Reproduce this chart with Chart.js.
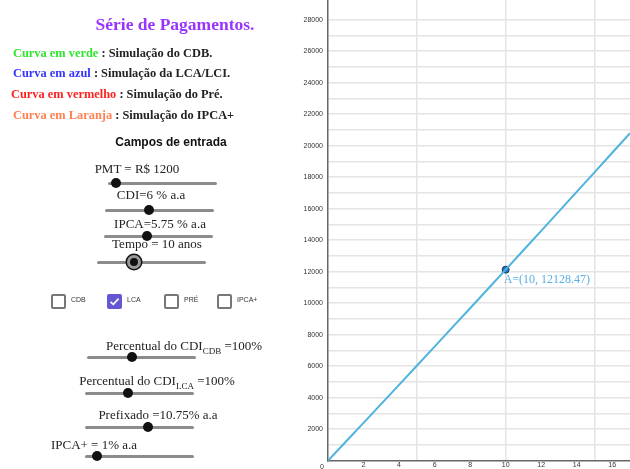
<!DOCTYPE html>
<html>
<head>
<meta charset="utf-8">
<script src="https://cdn.jsdelivr.net/npm/chart.js@4"></script>
<style>
  html, body { margin: 0; padding: 0; width: 630px; height: 469px; overflow: hidden; background: #fff; }
  #grafico { position: absolute; left: 0; top: 0; }
  .t { position: absolute; white-space: nowrap; line-height: 1; }
  .c { transform: translateX(-50%); }
  .serif { font-family: "Liberation Serif", "Times New Roman", serif; color: #222; }
  .b { font-weight: bold; }
  .slider { position: absolute; height: 3px; background: #8c8c8c; border-radius: 2px; }
  .knob { position: absolute; width: 10px; height: 10px; margin: -5px 0 0 -5px; border-radius: 50%; background: #111; }
  .knob.sel { width: 8px; height: 8px; margin: -7px 0 0 -7px; border: 3px solid #999; box-shadow: 0 0 0 1.5px #111; }
  .cb { position: absolute; width: 11px; height: 11px; border: 2px solid #777; border-radius: 2px; background: #fff; }
  .cb.on { background: #6557d2; border-color: #6557d2; }
  .cbl { position: absolute; font: 7px "Liberation Sans", Arial, sans-serif; color: #333; }
</style>
</head>
<body>
<canvas id="grafico" width="630" height="490"></canvas>

<div class="t c serif b" style="left:175px; top:16px; font-size:17.5px; color:#9933ff;">Série de Pagamentos.</div>
<div class="t serif b" style="left:13px; top:47px; font-size:12.4px;"><span style="color:#2ee62e">Curva em verde</span> : Simulação do CDB.</div>
<div class="t serif b" style="left:13px; top:67px; font-size:12.4px;"><span style="color:#3333ff">Curva em azul</span> : Simulação da LCA/LCI.</div>
<div class="t serif b" style="left:11px; top:88px; font-size:12.4px;"><span style="color:#ff2020">Curva em vermelho</span> : Simulação do Pré.</div>
<div class="t serif b" style="left:13px; top:109px; font-size:12.4px;"><span style="color:#ff7f50">Curva em Laranja</span> : Simulação do IPCA+</div>
<div class="t c b" style="left:171px; top:136px; font-size:12px; font-family:'Liberation Sans', Arial, sans-serif; color:#111;">Campos de entrada</div>

<div class="t c serif" style="left:137px; top:162px; font-size:13px;">PMT = R$ 1200</div>
<div class="t c serif" style="left:151px; top:188px; font-size:13px;">CDI=6 % a.a</div>
<div class="t c serif" style="left:160px; top:217px; font-size:13px;">IPCA=5.75 % a.a</div>
<div class="t c serif" style="left:157px; top:237px; font-size:13px;">Tempo = 10 anos</div>
<div class="t c serif" style="left:184px; top:339px; font-size:13px;">Percentual do CDI<sub style="font-size:9px">CDB</sub> =100%</div>
<div class="t c serif" style="left:157px; top:374px; font-size:13px;">Percentual do CDI<sub style="font-size:9px">LCA</sub> =100%</div>
<div class="t c serif" style="left:158px; top:408px; font-size:13px;">Prefixado =10.75% a.a</div>
<div class="t c serif" style="left:94px; top:438px; font-size:13px;">IPCA+ = 1% a.a</div>

<div id="controles"></div>

<div class="cb" style="left:51px; top:294px;"></div>
<div class="cb on" style="left:107px; top:294px;">
  <svg width="11" height="11" viewBox="0 0 11 11" style="position:absolute;left:0;top:0"><path d="M1.5 5.8 L4.3 8.4 L9.6 2.6" fill="none" stroke="#fff" stroke-width="1.6"/></svg>
</div>
<div class="cb" style="left:164px; top:294px;"></div>
<div class="cb" style="left:217px; top:294px;"></div>
<div class="cbl" style="left:71px; top:296px;">CDB</div>
<div class="cbl" style="left:127px; top:296px;">LCA</div>
<div class="cbl" style="left:184px; top:296px;">PRÉ</div>
<div class="cbl" style="left:237px; top:296px;">IPCA+</div>

<script>
// Dados do gráfico (curva azul: LCA/LCI)
const anos = [0, 1, 2, 3, 4, 5, 6, 7, 8, 9, 10, 11, 12, 13, 14, 15, 16, 17];
const valoresLCA = [0, 1200, 2403, 3609, 4817, 6029, 7243, 8461, 9681, 10904, 12128.47, 13360, 14592, 15827, 17065, 18306, 19550, 20797];
const pontoA = { x: 10, y: 12128.47 };
const rotuloA = 'A=(10, 12128.47)';

// Marcas dos eixos
const ticksX = [1, 2, 3, 4, 5, 6, 7, 8, 9, 10, 11, 12, 13, 14, 15, 16, 17];
const ticksY = [1000, 2000, 3000, 4000, 5000, 6000, 7000, 8000, 9000, 10000, 11000, 12000, 13000, 14000, 15000,
  16000, 17000, 18000, 19000, 20000, 21000, 22000, 23000, 24000, 25000, 26000, 27000, 28000];

// Sliders do painel esquerdo: [esquerda, direita, y, posição do cursor, selecionado]
const sliders = [
  [108, 217, 183, 116, false],
  [105, 214, 210, 149, false],
  [104, 213, 236, 147, false],
  [97, 206, 262, 134, true],
  [87, 196, 357, 132, false],
  [85, 194, 393, 128, false],
  [85, 194, 427, 148, false],
  [85, 194, 456, 97, false]
];
const controles = document.getElementById('controles');
sliders.forEach(function (s) {
  const linha = document.createElement('div');
  linha.className = 'slider';
  linha.style.left = s[0] + 'px';
  linha.style.width = (s[1] - s[0]) + 'px';
  linha.style.top = (s[2] - 1.5) + 'px';
  controles.appendChild(linha);
  const knob = document.createElement('div');
  knob.className = 'knob' + (s[4] ? ' sel' : '');
  knob.style.left = s[3] + 'px';
  knob.style.top = s[2] + 'px';
  controles.appendChild(knob);
});

// Rótulo do ponto A e "0" na origem
const rotulos = {
  id: 'rotulos',
  afterDatasetsDraw: function (chart) {
    const ctx = chart.ctx;
    const x = chart.scales.x;
    const y = chart.scales.y;
    ctx.save();
    ctx.font = '12px "Liberation Serif", serif';
    ctx.fillStyle = '#5aafe4';
    ctx.textBaseline = 'middle';
    ctx.fillText(rotuloA, x.getPixelForValue(pontoA.x) - 2, y.getPixelForValue(pontoA.y) + 10);
    ctx.font = '7px "Liberation Sans", sans-serif';
    ctx.fillStyle = '#333';
    ctx.textAlign = 'center';
    ctx.fillText('0', x.getPixelForValue(0) - 6, y.getPixelForValue(0) + 6);
    ctx.restore();
  }
};

new Chart(document.getElementById('grafico'), {
  type: 'scatter',
  data: {
    datasets: [
      {
        data: anos.map(function (a, i) { return { x: a, y: valoresLCA[i] }; }),
        showLine: true,
        borderColor: '#4fb3de',
        borderWidth: 2,
        pointRadius: 0,
        tension: 0
      },
      {
        data: [pontoA],
        pointRadius: 3.5,
        backgroundColor: '#1f74c8',
        borderColor: '#163a63',
        borderWidth: 1
      }
    ]
  },
  options: {
    responsive: false,
    animation: false,
    devicePixelRatio: 1,
    layout: { padding: 0, autoPadding: false },
    plugins: { legend: { display: false }, tooltip: { enabled: false } },
    scales: {
      x: {
        type: 'linear',
        min: 0,
        max: 17,
        afterBuildTicks: function (scale) {
          scale.ticks = ticksX.map(function (v) { return { value: v }; });
        },
        afterFit: function (scale) {
          scale.height = 29.3;
          scale.paddingLeft = 0;
          scale.paddingRight = 0;
        },
        border: { color: '#666', width: 1.5 },
        grid: {
          drawTicks: false,
          lineWidth: 1.5,
          color: function (c) {
            return (c.tick && c.tick.value % 5 === 0) ? '#e4e4e4' : 'rgba(0,0,0,0)';
          }
        },
        ticks: {
          autoSkip: false,
          maxRotation: 0,
          padding: 0,
          color: '#333',
          font: { size: 7, family: '"Liberation Sans", sans-serif' },
          callback: function (v) { return v % 2 === 0 ? v : ''; }
        }
      },
      y: {
        type: 'linear',
        min: 0,
        max: 29250,
        afterBuildTicks: function (scale) {
          scale.ticks = ticksY.map(function (v) { return { value: v }; });
        },
        afterFit: function (scale) {
          scale.width = 328;
          scale.paddingTop = 0;
          scale.paddingBottom = 0;
        },
        border: { color: '#666', width: 1.5 },
        grid: {
          drawTicks: false,
          lineWidth: 1.5,
          color: '#e4e4e4'
        },
        ticks: {
          autoSkip: false,
          padding: 5,
          color: '#333',
          font: { size: 7, family: '"Liberation Sans", sans-serif' },
          callback: function (v) { return v % 2000 === 0 ? v : ''; }
        }
      }
    }
  },
  plugins: [rotulos]
});
</script>
</body>
</html>
